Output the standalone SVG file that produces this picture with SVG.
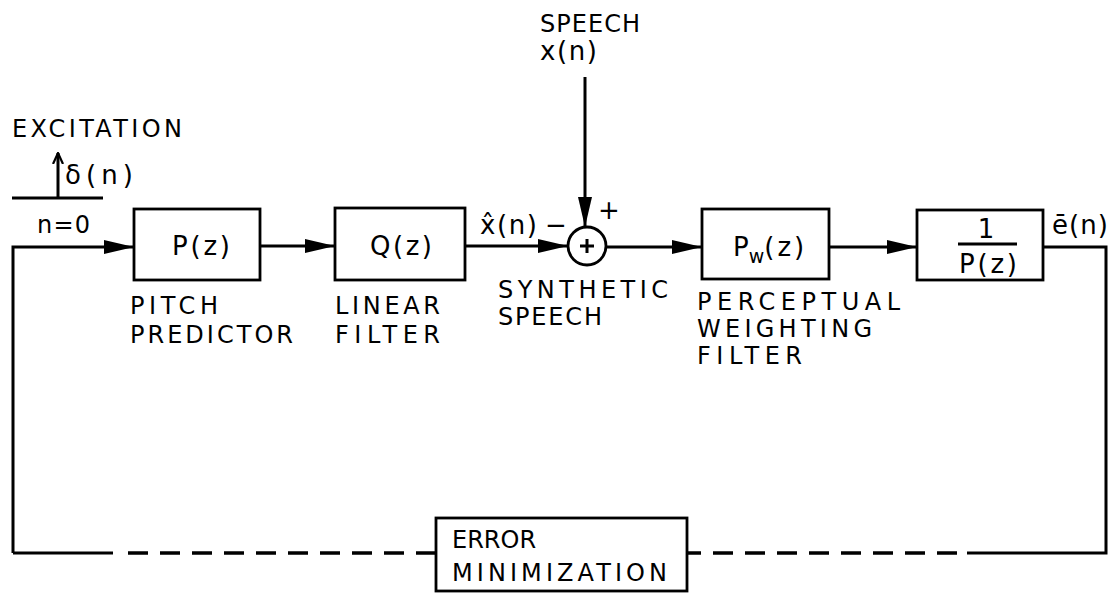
<svg xmlns="http://www.w3.org/2000/svg" width="1116" height="593" viewBox="0 0 1116 593">
<style>
.bx{fill:#fff;stroke:#000;stroke-width:2.8}
.ln{fill:none;stroke:#000;stroke-width:3}
.ds{fill:none;stroke:#000;stroke-width:3.5;stroke-dasharray:20 12}
text{font-family:"DejaVu Sans",sans-serif;fill:#000}
.lb{font-size:24px}
.fn{font-size:26px}
</style>
<defs>
<marker id="ar" markerUnits="userSpaceOnUse" markerWidth="30" markerHeight="16" refX="30" refY="8" orient="auto">
<path d="M0,1 L30,8 L0,15 Z" fill="#000"/>
</marker>
<marker id="au" markerUnits="userSpaceOnUse" markerWidth="12" markerHeight="12" refX="11" refY="6" orient="auto">
<path d="M0,1 L11,6 L0,11" fill="none" stroke="#000" stroke-width="2.2"/>
</marker>
</defs>
<g id="connectors">
<path class="ln" d="M13,553 L13,247 L134,247" marker-end="url(#ar)"/>
<path class="ln" d="M13,553 L113,553"/>
<path class="ds" d="M128,553 L436,553"/>
<path class="ln" d="M260,246 L335,246" marker-end="url(#ar)"/>
<path class="ln" d="M465,246 L568,246" marker-end="url(#ar)"/>
<path class="ln" d="M585,77 L585,227" marker-end="url(#ar)"/>
<path class="ln" d="M606,247 L702,247" marker-end="url(#ar)"/>
<path class="ln" d="M829,247 L917,247" marker-end="url(#ar)"/>
<path class="ln" d="M1043,247 L1106,247 L1106,553 L967,553"/>
<path class="ds" d="M957,553 L687,553"/>
</g>
<g id="excitation">
<text class="lb" x="12" y="137" textLength="170" lengthAdjust="spacing">EXCITATION</text>
<path class="ln" d="M12,198 L103,198"/>
<path class="ln" d="M58,198 L58,153" marker-end="url(#au)"/>
<text x="65" y="184" font-size="26" textLength="68" lengthAdjust="spacing">δ(n)</text>
<text class="lb" x="37" y="233" textLength="53" lengthAdjust="spacing">n=0</text>
</g>
<g id="pitch">
<rect class="bx" x="134" y="209" width="126" height="71"/>
<text class="fn" x="172" y="255" textLength="58" lengthAdjust="spacing">P(z)</text>
<text class="lb" x="130" y="314" textLength="88" lengthAdjust="spacing">PITCH</text>
<text class="lb" x="130" y="343" textLength="163" lengthAdjust="spacing">PREDICTOR</text>
</g>
<g id="linear">
<rect class="bx" x="335" y="208" width="130" height="72"/>
<text class="fn" x="370" y="255" textLength="62" lengthAdjust="spacing">Q(z)</text>
<text class="lb" x="335" y="314" textLength="105" lengthAdjust="spacing">LINEAR</text>
<text class="lb" x="335" y="343" textLength="105" lengthAdjust="spacing">FILTER</text>
<text class="fn" x="480" y="234" textLength="57" lengthAdjust="spacing">x̂(n)</text>
<text class="fn" x="556" y="234" text-anchor="middle">−</text>
</g>
<g id="sum">
<text class="lb" x="540" y="32" textLength="100" lengthAdjust="spacing">SPEECH</text>
<text class="fn" x="540" y="60" textLength="57" lengthAdjust="spacing">x(n)</text>
<circle class="bx" cx="587" cy="246" r="19"/>
<path class="ln" d="M580,246 L594,246 M587,239 L587,253" stroke-width="2.5"/>
<text class="fn" x="609" y="219" text-anchor="middle">+</text>
<text class="lb" x="498" y="298" textLength="170" lengthAdjust="spacing">SYNTHETIC</text>
<text class="lb" x="498" y="325" textLength="104" lengthAdjust="spacing">SPEECH</text>
</g>
<g id="weighting">
<rect class="bx" x="702" y="209" width="127" height="70"/>
<text class="fn" x="733" y="256">P<tspan font-size="19" dy="7">w</tspan><tspan dy="-7" letter-spacing="3">(z)</tspan></text>
<text class="lb" x="697" y="310" textLength="203" lengthAdjust="spacing">PERCEPTUAL</text>
<text class="lb" x="697" y="337" textLength="175" lengthAdjust="spacing">WEIGHTING</text>
<text class="lb" x="697" y="364" textLength="105" lengthAdjust="spacing">FILTER</text>
</g>
<g id="inverse">
<rect class="bx" x="917" y="210" width="126" height="70"/>
<text class="fn" x="986" y="238" text-anchor="middle">1</text>
<path class="ln" d="M958,244 L1017,244" stroke-width="2.5"/>
<text class="fn" x="959" y="273" textLength="58" lengthAdjust="spacing">P(z)</text>
<text class="fn" x="1052" y="234" textLength="56" lengthAdjust="spacing">ē(n)</text>
</g>
<g id="error">
<rect class="bx" x="436" y="518" width="251" height="73"/>
<text class="lb" x="452" y="548">ERROR</text>
<text class="lb" x="452" y="581" textLength="215" lengthAdjust="spacing">MINIMIZATION</text>
</g>
</svg>
